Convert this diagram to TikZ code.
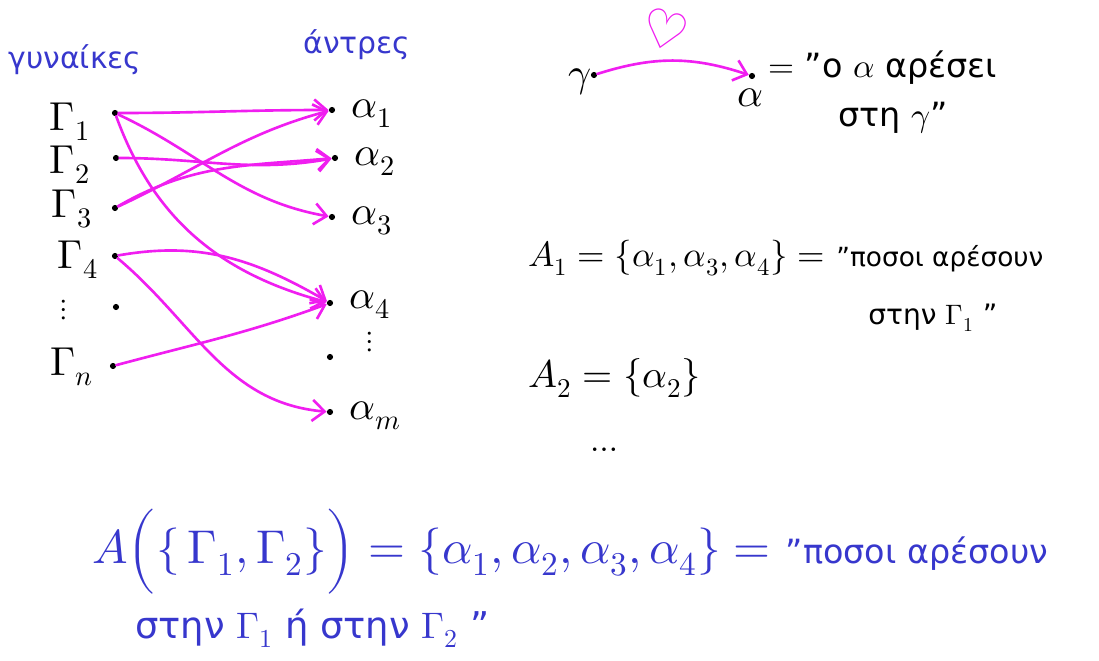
\documentclass[tikz,border=0pt]{standalone}
\usepackage{amsmath}
\usepackage{fontspec}
\usepackage{unicode-math}
\setmainfont{DejaVu Sans}
\setmathfont{Latin Modern Math}
\usetikzlibrary{positioning}
\usetikzlibrary{arrows.meta}
\definecolor{pen}{RGB}{55,55,205}
\definecolor{pink}{RGB}{240,30,240}
\newcommand{\wordsize}[1]{\fontsize{#1}{#1}\selectfont}

\begin{document}
\begin{tikzpicture}[x=0.2mm, y=-0.2mm,
    node distance=0.4cm and 0.6cm,
    dot/.style={circle, fill=black, inner sep=0pt, minimum size=3.5pt},
    lbl/.style={font=\fontsize{23}{26}\selectfont, inner sep=0pt},
    head/.style={text=pen, font=\fontsize{17}{20}\selectfont},
    note/.style={anchor=west, font=\fontsize{19}{23}\selectfont, inner sep=0pt},
    big/.style={anchor=west, text=pen, font=\fontsize{27}{30}\selectfont, inner sep=0pt},
    likes/.style={-{Straight Barb[length=7pt, width=12pt]}, line width=1.5pt, pink, line cap=round}
]
    \useasboundingbox (0,0) rectangle (1099,661);

    % the two sets
    \node[head] (women) at (75,60) {γυναίκες};
    \node[head] (men) at (357,45) {άντρες};

    \node[dot] (g1) at (115,113) {};
    \node[dot] (g2) at (116,158) {};
    \node[dot] (g3) at (115,208) {};
    \node[dot] (g4) at (115,256) {};
    \node[dot] (g5) at (116,307) {};
    \node[dot] (gn) at (113,366) {};

    \node[lbl] (G1) at (70,122) {$\Gamma_1$};
    \node[lbl] (G2) at (70,165) {$\Gamma_2$};
    \node[lbl] (G3) at (72,209) {$\Gamma_3$};
    \node[lbl] (G4) at (78,260) {$\Gamma_4$};
    \node[lbl, font=\fontsize{17}{20}\selectfont] (Gdots) at (64,310) {$\vdots$};
    \node[lbl] (Gn) at (72,367) {$\Gamma_n$};

    \node[dot] (a1) at (332,110) {};
    \node[dot] (a2) at (335,158) {};
    \node[dot] (a3) at (332,217) {};
    \node[dot] (a4) at (330,303) {};
    \node[dot] (a5) at (330,357) {};
    \node[dot] (am) at (330,412) {};

    \node[lbl, right=9pt of a1, yshift=-2pt] (A1) {$\alpha_1$};
    \node[lbl, right=9pt of a2, yshift=-2pt] (A2) {$\alpha_2$};
    \node[lbl, right=9pt of a3, yshift=-2pt] (A3) {$\alpha_3$};
    \node[lbl, right=9pt of a4, yshift=-1pt] (A4) {$\alpha_4$};
    \node[lbl, font=\fontsize{17}{20}\selectfont] (Adots) at (370,342) {$\vdots$};
    \node[lbl, right=9pt of am, yshift=-2pt] (Am) {$\alpha_m$};

    \draw[likes] (g1) to[out=0, in=180] (a1);
    \draw[likes] (g1) to[out=-25, in=170] (a3);
    \draw[likes] (g1) to[out=-70, in=165] (a4);
    \draw[likes] (g2) to[out=0, in=190] (a2);
    \draw[likes] (g3) to[out=25, in=195] (a1);
    \draw[likes] (g3) to[out=30, in=185] (a2);
    \draw[likes] (g4) to[out=10, in=150] (a4);
    \draw[likes] (g4) to[out=-40, in=175] (am);
    \draw[likes] (gn) to[out=15, in=200] (a4);

    % one woman, one man
    \node[lbl] (gam) at (580,82) {$\gamma$};
    \node[dot] (gdot) at (594,75) {};
    \node[dot] (adot) at (752,76) {};
    \node[lbl] (alp) at (750,98) {$\alpha$};
    \draw[likes] (gdot) to[bend left=18] (adot);
    \node[pink, font=\fontsize{30}{32}\selectfont, rotate=-15] (heart) at (665,30) {♡};
    \node[note] (likes1) at (768,68) {$=$ ''ο $\alpha$ αρέσει};
    \node[note] (likes2) at (838,118) {στη $\gamma$''};

    % the sets A
    \node[note, font=\fontsize{20}{24}\selectfont] (setA1) at (528,258) {$A_1=\{\alpha_1,\alpha_3,\alpha_4\}=$ {\wordsize{15}''ποσοι αρέσουν}};
    \node[note, font=\fontsize{16}{20}\selectfont] (setA1b) at (868,318) {στην $\Gamma_1$ ''};
    \node[note, font=\fontsize{22}{26}\selectfont] (setA2) at (528,378) {$A_2=\{\alpha_2\}$};
    \node[note] (more) at (590,450) {$\ldots$};

    \node[big] (union) at (92,552) {$A\Bigl(\{\,\Gamma_1,\Gamma_2\}\Bigr)=\{\alpha_1,\alpha_2,\alpha_3,\alpha_4\}=$ {\wordsize{19}''ποσοι αρέσουν}};
    \node[big, font=\fontsize{21}{24}\selectfont] (unionb) at (135,628) {στην $\Gamma_1$ ή στην $\Gamma_2$ ''};
\end{tikzpicture}
\end{document}
